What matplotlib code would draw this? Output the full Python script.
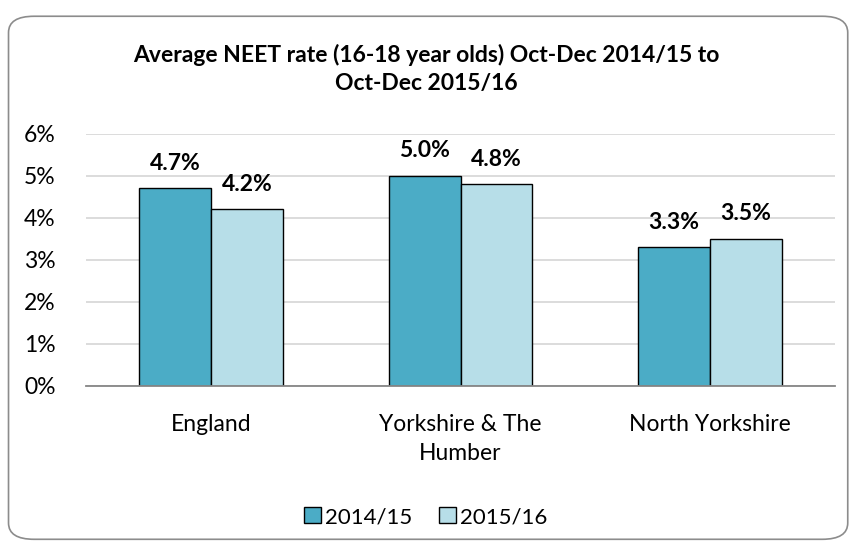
import matplotlib
matplotlib.use("Agg")
import matplotlib.pyplot as plt
from matplotlib.patches import FancyBboxPatch, Patch
from matplotlib.ticker import FuncFormatter
import numpy as np

# ── data ──────────────────────────────────────────────────────
categories = ["England", "Yorkshire & The\nHumber", "North Yorkshire"]
series_names = ["2014/15", "2015/16"]
rate_2014_15 = [4.7, 5.0, 3.3]
rate_2015_16 = [4.2, 4.8, 3.5]
y_ticks = [0, 1, 2, 3, 4, 5, 6]

TITLE = "Average NEET rate (16-18 year olds) Oct-Dec 2014/15 to\nOct-Dec 2015/16"
COLORS = ["#4BACC6", "#B7DEE8"]

plt.rcParams["font.family"] = ["Lato", "DejaVu Sans"]

fig = plt.figure(figsize=(8.52, 5.42), dpi=100)

# rounded chart frame
frame = FancyBboxPatch((0.010, 0.005), 0.985, 0.965,
                       boxstyle="round,pad=0,rounding_size=0.03",
                       transform=fig.transFigure, facecolor="white",
                       edgecolor="#8C8C8C", linewidth=1.2, zorder=0)
fig.patches.append(frame)

ax = fig.add_axes([0.101, 0.288, 0.879, 0.465])
ax.set_facecolor("none")
ax.set_zorder(2)

x = np.arange(len(categories))
width = 0.288
for i, (vals, col) in enumerate(zip([rate_2014_15, rate_2015_16], COLORS)):
    xs = x + (i - 0.5) * width
    bars = ax.bar(xs, vals, width=width, color=col, edgecolor="black",
                  linewidth=1.0, zorder=3, label=series_names[i])
    for b, v in zip(bars, vals):
        ax.annotate(f"{v:.1f}%", (b.get_x() + b.get_width() / 2, v),
                    xytext=(0, 18), textcoords="offset points",
                    ha="center", va="center", fontsize=16.5, fontweight="bold")

ax.set_xlim(-0.5, len(categories) - 0.5)
ax.set_ylim(0, 6)
ax.set_yticks(y_ticks)
ax.yaxis.set_major_formatter(FuncFormatter(lambda v, _: f"{v:.0f}%"))
ax.set_xticks(x)
ax.set_xticklabels(categories, linespacing=1.5)
ax.tick_params(axis="both", length=0, labelsize=16.5)
ax.tick_params(axis="x", pad=20)
ax.tick_params(axis="y", pad=22)

ax.grid(axis="y", color="#D9D9D9", linewidth=1.3, zorder=0)
for s in ["top", "right", "left"]:
    ax.spines[s].set_visible(False)
ax.spines["bottom"].set_color("#868686")
ax.spines["bottom"].set_linewidth(1.3)
ax.spines["bottom"].set_zorder(4)

fig.text(0.5, 0.873, TITLE, ha="center", va="center", fontsize=16.5,
         fontweight="bold", linespacing=1.4, zorder=3)

handles = [Patch(facecolor=c, edgecolor="black", linewidth=1.0) for c in COLORS]
leg = fig.legend(handles, series_names, loc="center", bbox_to_anchor=(0.5, 0.046),
                 ncol=2, frameon=False, fontsize=16, handlelength=0.75,
                 handleheight=0.75, handletextpad=0.2, columnspacing=1.2)
leg.set_zorder(3)

fig.savefig("out.png", dpi=100)
